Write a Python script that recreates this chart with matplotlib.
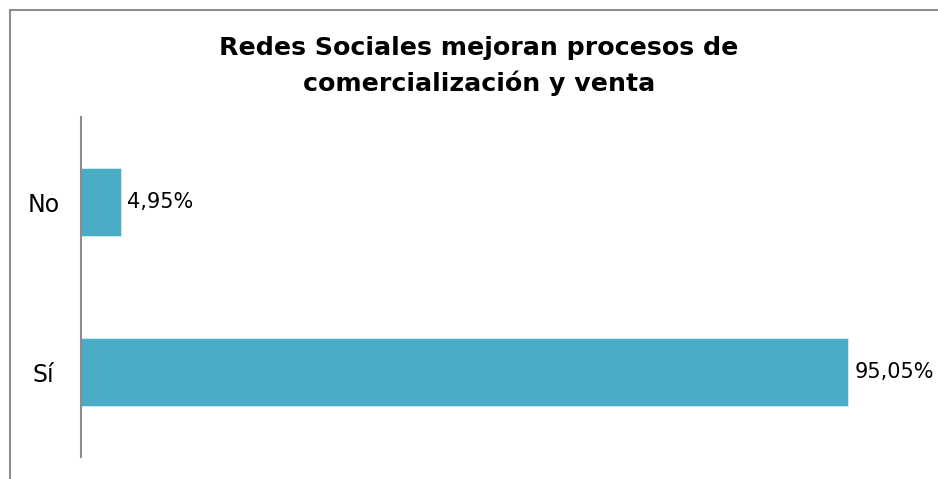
import matplotlib
matplotlib.use("Agg")
import matplotlib.pyplot as plt
from matplotlib.patches import Rectangle

categories = ["Sí", "No"]
values = [95.05, 4.95]
labels = ["95,05%", "4,95%"]
title = "Redes Sociales mejoran procesos de\ncomercialización y venta"

W, H = 938, 479
fig = plt.figure(figsize=(W / 100, H / 100), dpi=100)

# outer chart frame, runs past the right and bottom edges
fig.patches.append(Rectangle((10 / W, -0.1), 1.2, 1 - 9.5 / H + 0.1,
                             transform=fig.transFigure, fill=False,
                             edgecolor="#8c8c8c", linewidth=1.5))

# plot area: 0..100% spans 807 px starting at x=81
ax = fig.add_axes([81 / W, 1 - 457 / H, 807 / W, 340 / H])
pos = range(len(categories))
ax.barh(pos, values, height=0.4, color="#4BACC6", edgecolor="#d6eef5", linewidth=0.6)
ax.set_xlim(0, 100)
ax.set_ylim(-0.5, 1.5)
ax.set_yticks(list(pos))
ax.set_yticklabels(categories, fontsize=17, ha="center")
ax.tick_params(axis="y", length=0, pad=27)
ax.set_xticks([])
for s in ["top", "right", "bottom"]:
    ax.spines[s].set_visible(False)
ax.spines["left"].set_color("#8c8c8c")
ax.spines["left"].set_linewidth(1.5)

for p, v, lab in zip(pos, values, labels):
    ax.annotate(lab, (v, p), xytext=(4.5, 0), textcoords="offset points",
                va="center", ha="left", fontsize=15, annotation_clip=False)

fig.text(479 / W, 1 - 66 / H, title, ha="center", va="center", fontsize=18.2,
         fontweight="bold", linespacing=1.55)

fig.savefig("out.png", dpi=100)
